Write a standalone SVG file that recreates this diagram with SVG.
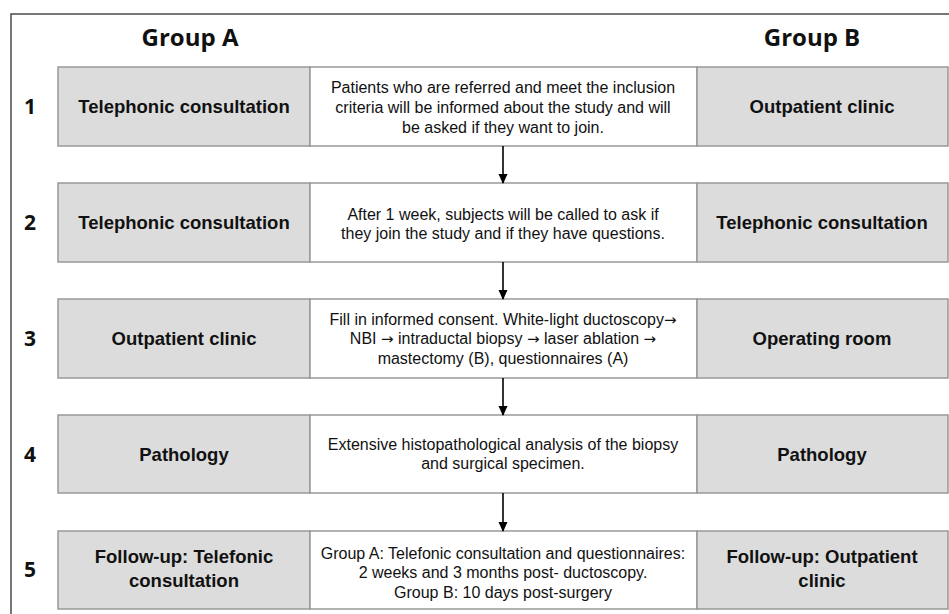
<svg xmlns="http://www.w3.org/2000/svg" width="949" height="614" viewBox="0 0 949 614">
<defs>
<style>
.frame{fill:#fff;stroke:#555;stroke-width:1.6}
.g{fill:#dcdcdc;stroke:#999;stroke-width:1.5}
.w{fill:#fff;stroke:#999;stroke-width:1.5}
.hd{font-family:"Open Sans","DejaVu Sans",sans-serif;font-weight:bold;font-size:24px;fill:#111;text-anchor:middle}
.num{font-family:"Open Sans","DejaVu Sans",sans-serif;font-weight:bold;font-size:21px;fill:#111;text-anchor:middle}
.lb{font-family:"Liberation Sans",Arial,sans-serif;font-weight:bold;font-size:18.5px;fill:#111;text-anchor:middle}
.tx{font-family:"Liberation Sans",Arial,sans-serif;font-size:16px;fill:#111;text-anchor:middle}
.ar{font-family:"DejaVu Sans",sans-serif;font-size:15px}
.arr{stroke:#000;stroke-width:1.6;fill:none}
</style>
<marker id="ah" markerWidth="10" markerHeight="10" refX="9" refY="5" orient="auto" markerUnits="userSpaceOnUse">
<path d="M0,0.5 L10,5 L0,9.5 Z" fill="#000"/>
</marker>
</defs>
<rect x="0" y="0" width="949" height="614" fill="#fff"/>
<rect class="frame" x="11" y="14" width="960" height="620"/>
<text class="hd" x="190" y="46">Group A</text>
<text class="hd" x="812" y="46">Group B</text>

<g id="row1">
<text class="num" x="30" y="114">1</text>
<rect class="g" x="58" y="67" width="252" height="79"/>
<rect class="w" x="310" y="67" width="387" height="79"/>
<rect class="g" x="697" y="67" width="251" height="79"/>
<text class="lb" x="184" y="113">Telephonic consultation</text>
<text class="tx" x="503" y="93">Patients who are referred and meet the inclusion</text>
<text class="tx" x="503" y="113">criteria will be informed about the study and will</text>
<text class="tx" x="503" y="133">be asked if they want to join.</text>
<text class="lb" x="822" y="113">Outpatient clinic</text>
</g>

<g id="row2">
<text class="num" x="30" y="230">2</text>
<rect class="g" x="58" y="183" width="252" height="79"/>
<rect class="w" x="310" y="183" width="387" height="79"/>
<rect class="g" x="697" y="183" width="251" height="79"/>
<text class="lb" x="184" y="229">Telephonic consultation</text>
<text class="tx" x="503" y="220">After 1 week, subjects will be called to ask if</text>
<text class="tx" x="503" y="239">they join the study and if they have questions.</text>
<text class="lb" x="822" y="229">Telephonic consultation</text>
</g>

<g id="row3">
<text class="num" x="30" y="346">3</text>
<rect class="g" x="58" y="299" width="252" height="79"/>
<rect class="w" x="310" y="299" width="387" height="79"/>
<rect class="g" x="697" y="299" width="251" height="79"/>
<text class="lb" x="184" y="345">Outpatient clinic</text>
<text class="tx" x="503" y="325">Fill in informed consent. White-light ductoscopy<tspan class="ar">→</tspan></text>
<text class="tx" x="503" y="344">NBI <tspan class="ar">→</tspan> intraductal biopsy <tspan class="ar">→</tspan> laser ablation <tspan class="ar">→</tspan></text>
<text class="tx" x="503" y="364">mastectomy (B), questionnaires (A)</text>
<text class="lb" x="822" y="345">Operating room</text>
</g>

<g id="row4">
<text class="num" x="30" y="462">4</text>
<rect class="g" x="58" y="415" width="252" height="78"/>
<rect class="w" x="310" y="415" width="387" height="78"/>
<rect class="g" x="697" y="415" width="251" height="78"/>
<text class="lb" x="184" y="461">Pathology</text>
<text class="tx" x="503" y="450">Extensive histopathological analysis of the biopsy</text>
<text class="tx" x="503" y="469">and surgical specimen.</text>
<text class="lb" x="822" y="461">Pathology</text>
</g>

<g id="row5">
<text class="num" x="30" y="577">5</text>
<rect class="g" x="58" y="531" width="252" height="78"/>
<rect class="w" x="310" y="531" width="387" height="78"/>
<rect class="g" x="697" y="531" width="251" height="78"/>
<text class="lb" x="184" y="563">Follow-up: Telefonic</text>
<text class="lb" x="184" y="587">consultation</text>
<text class="tx" x="503" y="559">Group A: Telefonic consultation and questionnaires:</text>
<text class="tx" x="503" y="578">2 weeks and 3 months post- ductoscopy.</text>
<text class="tx" x="503" y="598">Group B: 10 days post-surgery</text>
<text class="lb" x="822" y="563">Follow-up: Outpatient</text>
<text class="lb" x="822" y="587">clinic</text>
</g>

<g id="connectors">
<line class="arr" x1="503" y1="146" x2="503" y2="183" marker-end="url(#ah)"/>
<line class="arr" x1="503" y1="262" x2="503" y2="299" marker-end="url(#ah)"/>
<line class="arr" x1="503" y1="378" x2="503" y2="415" marker-end="url(#ah)"/>
<line class="arr" x1="503" y1="493" x2="503" y2="531" marker-end="url(#ah)"/>
</g>
</svg>
